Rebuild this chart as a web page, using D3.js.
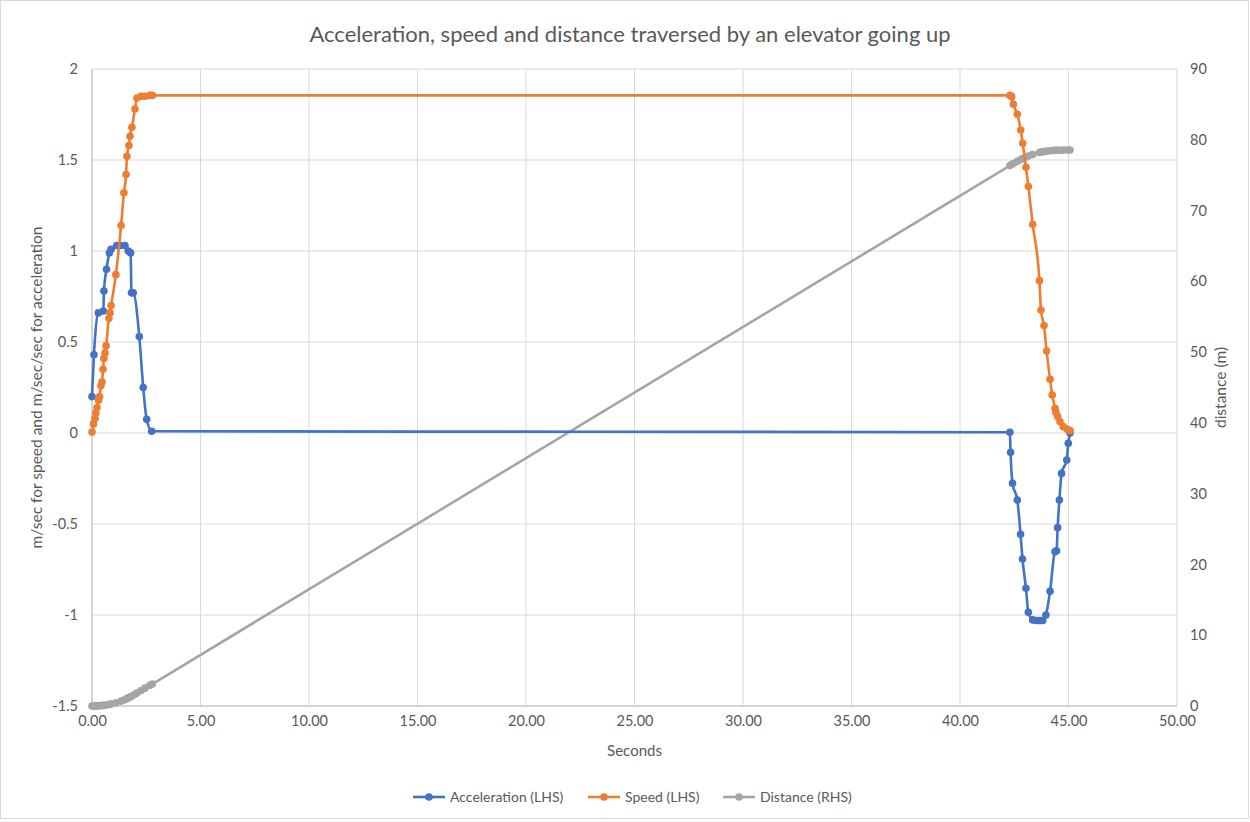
<!DOCTYPE html>
<html><head><meta charset="utf-8">
<script src="https://cdn.jsdelivr.net/npm/d3@7"></script>
<style>body{margin:0;background:#fff;} text{font-family:Lato, "Liberation Sans", sans-serif;fill:#595959;}</style>
</head><body><svg id="c" width="1250" height="822"></svg>
<script>
const title = "Acceleration, speed and distance traversed by an elevator going up";
const xTicks = [0,5,10,15,20,25,30,35,40,45,50];
const leftTicks = [2,1.5,1,0.5,0,-0.5,-1,-1.5];
const rightTicks = [0,10,20,30,40,50,60,70,80,90];
const seriesNames = ["Acceleration (LHS)","Speed (LHS)","Distance (RHS)"];
const seriesColors = ["#4472C4","#ED7D31","#A5A5A5"];

const accT = [0,0.09,0.29,0.52,0.55,0.67,0.80,0.88,1.14,1.30,1.52,1.67,1.78,1.82,1.90,2.18,2.36,2.52,2.75,
  42.30,42.33,42.42,42.64,42.79,42.88,43.04,43.15,43.35,43.50,43.61,43.72,43.81,43.96,44.15,44.38,44.45,44.50,44.58,44.68,44.92,44.99,45.07];
const accV = [0.20,0.43,0.66,0.67,0.78,0.90,0.99,1.01,1.03,1.03,1.03,1.00,0.99,0.77,0.77,0.53,0.25,0.075,0.01,
  0.004,-0.106,-0.276,-0.368,-0.557,-0.692,-0.853,-0.985,-1.027,-1.03,-1.03,-1.03,-1.03,-1.0,-0.87,-0.652,-0.647,-0.52,-0.368,-0.222,-0.148,-0.057,0.0];

const spdT = [0,0.07,0.14,0.18,0.23,0.30,0.35,0.41,0.46,0.51,0.55,0.60,0.65,0.78,0.83,0.88,1.10,1.34,1.47,1.57,1.61,1.70,1.75,1.84,1.98,2.07,2.26,2.44,2.67,2.78,
  42.30,42.38,42.46,42.64,42.80,42.89,43.04,43.15,43.35,43.66,43.73,43.87,43.99,44.15,44.25,44.38,44.42,44.50,44.61,44.76,44.94,45.07];
const spdV = [0.005,0.05,0.08,0.11,0.14,0.18,0.20,0.26,0.28,0.35,0.41,0.44,0.48,0.63,0.66,0.70,0.87,1.14,1.32,1.42,1.52,1.58,1.63,1.68,1.78,1.84,1.85,1.85,1.855,1.855,
  1.855,1.848,1.806,1.751,1.665,1.592,1.46,1.354,1.147,0.837,0.676,0.59,0.45,0.295,0.209,0.136,0.112,0.09,0.062,0.035,0.02,0.013];

const distT = spdT;
const distV = [0,0.002,0.007,0.01,0.016,0.027,0.036,0.05,0.063,0.08,0.095,0.116,0.139,0.21,0.243,0.277,0.45,0.69,0.85,0.99,1.05,1.19,1.27,1.42,1.67,1.83,2.18,2.52,2.94,3.1,
  76.35,76.5,76.65,76.95,77.2,77.35,77.55,77.7,77.93,78.2,78.25,78.33,78.39,78.45,78.48,78.5,78.51,78.52,78.53,78.54,78.55,78.55];

const svg = d3.select("#c");
const W=1250,H=822;
const L=92,R=1177,T=69,B=706;
svg.append("rect").attr("x",0.5).attr("y",0.5).attr("width",W-2).attr("height",H-4).attr("fill","#fff").attr("stroke","#d9d9d9");

const x = d3.scaleLinear().domain([0,50]).range([L,R]);
const yL = d3.scaleLinear().domain([-1.5,2]).range([B,T]);
const yR = d3.scaleLinear().domain([0,90]).range([B,T]);

const g = svg.append("g");
g.selectAll(".hg").data(leftTicks).join("line").attr("x1",L).attr("x2",R).attr("y1",d=>yL(d)).attr("y2",d=>yL(d)).attr("stroke","#d9d9d9").attr("stroke-width",1);
g.selectAll(".vg").data(xTicks).join("line").attr("y1",T).attr("y2",B).attr("x1",d=>x(d)).attr("x2",d=>x(d)).attr("stroke","#d9d9d9").attr("stroke-width",1);
g.append("line").attr("x1",L).attr("x2",L).attr("y1",T).attr("y2",B).attr("stroke","#bfbfbf");
g.append("line").attr("x1",L).attr("x2",R).attr("y1",B).attr("y2",B).attr("stroke","#bfbfbf");

const fs = "14.5px";
const ax = svg.append("g").attr("transform",`translate(0,${B})`).call(d3.axisBottom(x).tickValues(xTicks).tickFormat(d3.format(".2f")).tickSize(0).tickPadding(10));
const al = svg.append("g").attr("transform",`translate(${L},0)`).call(d3.axisLeft(yL).tickValues(leftTicks).tickFormat(d=>String(d)).tickSize(0).tickPadding(14));
const ar = svg.append("g").attr("transform",`translate(${R},0)`).call(d3.axisRight(yR).tickValues(rightTicks).tickSize(0).tickPadding(13));
[ax,al,ar].forEach(a=>{a.select(".domain").remove();a.selectAll("text").attr("font-size",fs).style("fill","#595959").attr("font-family","Lato, 'Liberation Sans', sans-serif");});

svg.append("text").attr("x",630).attr("y",42).attr("text-anchor","middle").attr("font-size","22px").text(title);
svg.append("text").attr("x",(L+R)/2).attr("y",756).attr("text-anchor","middle").attr("font-size","15px").text("Seconds");
svg.append("text").attr("transform",`translate(42,${(T+B)/2}) rotate(-90)`).attr("text-anchor","middle").attr("font-size","15.5px").text("m/sec for speed and m/sec/sec for acceleration");
svg.append("text").attr("transform",`translate(1226,${(T+B)/2}) rotate(-90)`).attr("text-anchor","middle").attr("font-size","15.5px").text("distance (m)");

function drawSeries(ts, vs, yScale, color, curve){
  const pts = ts.map((t,i)=>[t,vs[i]]);
  const line = d3.line().x(d=>x(d[0])).y(d=>yScale(d[1])).curve(curve);
  const gg = svg.append("g");
  gg.append("path").attr("d",line(pts)).attr("fill","none").attr("stroke",color).attr("stroke-width",2.6).attr("stroke-linejoin","round");
  gg.selectAll("circle").data(pts).join("circle").attr("cx",d=>x(d[0])).attr("cy",d=>yScale(d[1])).attr("r",3.8).attr("fill",color);
}
drawSeries(distT, distV, yR, seriesColors[2], d3.curveLinear);
drawSeries(accT, accV, yL, seriesColors[0], d3.curveMonotoneX);
drawSeries(spdT, spdV, yL, seriesColors[1], d3.curveMonotoneX);

const legX = [413,588,723];
const lg = svg.append("g");
seriesNames.forEach((n,i)=>{
  const gx = legX[i], gy = 797;
  lg.append("line").attr("x1",gx).attr("x2",gx+32).attr("y1",gy).attr("y2",gy).attr("stroke",seriesColors[i]).attr("stroke-width",2.6);
  lg.append("circle").attr("cx",gx+16).attr("cy",gy).attr("r",3.8).attr("fill",seriesColors[i]);
  lg.append("text").attr("x",gx+37).attr("y",gy+5).attr("font-size","14px").text(n);
});
</script></body></html>
